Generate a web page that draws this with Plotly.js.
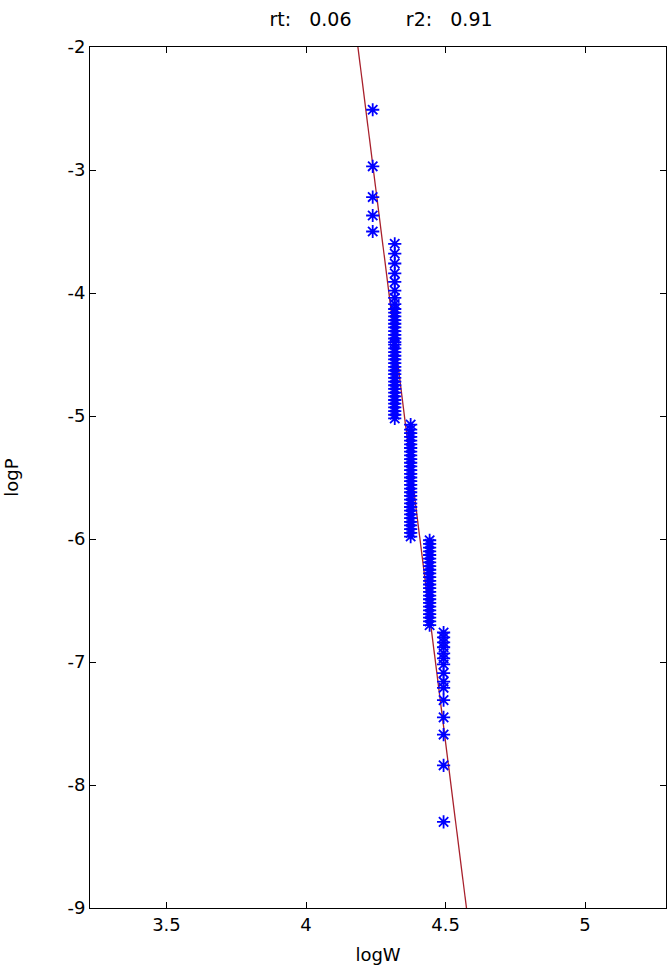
<!DOCTYPE html>
<html>
<head>
<meta charset="utf-8">
<script src="https://cdn.plot.ly/plotly-3.0.1.min.js"></script>
<style>html,body{margin:0;padding:0;background:#fff;}#chart{width:667px;height:974px;}</style>
</head>
<body>
<div id="chart"></div>
<script>
// logW levels of the point groups
const groupLogW = [4.239, 4.318, 4.375, 4.443, 4.493];
// logP values of each group
const logP_g0 = [-2.51, -2.97, -3.22, -3.37, -3.50];
const logP_g1 = [-3.60, -3.68, -3.76, -3.84, -3.91, -3.98, -4.04, -4.09, -4.13, -4.16, -4.19, -4.22, -4.25, -4.28, -4.31, -4.34, -4.37, -4.40, -4.42, -4.45, -4.48, -4.51, -4.54, -4.57, -4.60, -4.63, -4.66, -4.69, -4.72, -4.75, -4.78, -4.81, -4.84, -4.87, -4.90, -4.93, -4.96, -4.99, -5.02];
const logP_g2 = [-5.07, -5.11, -5.14, -5.17, -5.20, -5.23, -5.26, -5.29, -5.32, -5.35, -5.38, -5.41, -5.44, -5.47, -5.50, -5.53, -5.56, -5.59, -5.62, -5.65, -5.68, -5.71, -5.74, -5.77, -5.80, -5.83, -5.86, -5.89, -5.92, -5.95, -5.98];
const logP_g3 = [-6.01, -6.04, -6.07, -6.10, -6.13, -6.16, -6.19, -6.22, -6.25, -6.28, -6.31, -6.34, -6.37, -6.40, -6.43, -6.46, -6.49, -6.52, -6.55, -6.58, -6.61, -6.64, -6.67, -6.70];
const logP_g4 = [-6.76, -6.80, -6.84, -6.88, -6.93, -6.97, -7.02, -7.09, -7.16, -7.21, -7.31, -7.45, -7.59, -7.84, -8.30];
// fitted line endpoints (logW, logP)
const fitLogW = [4.186, 4.575];
const fitLogP = [-2, -9];
// stats in title
const rt = "0.06";
const r2 = "0.91";
const xTicks = [3.5, 4, 4.5, 5];
const yTicks = [-2, -3, -4, -5, -6, -7, -8, -9];

const groups = [logP_g0, logP_g1, logP_g2, logP_g3, logP_g4];
const px = [], py = [];
groups.forEach((g, i) => g.forEach(v => { px.push(groupLogW[i]); py.push(v); }));

const font = {family: 'DejaVu Sans, sans-serif', size: 18, color: '#000'};

const traces = [
  {x: fitLogW, y: fitLogP, type: 'scatter', mode: 'lines',
   line: {color: '#a8202c', width: 1.3}, hoverinfo: 'skip', cliponaxis: true},
  {x: px, y: py, type: 'scatter', mode: 'markers',
   marker: {symbol: 'asterisk-open', size: 11, color: '#0000ff', line: {color: '#0000ff', width: 1.8}}}
];

const S = '\u00A0';
const layout = {
  width: 667, height: 974,
  margin: {l: 90, r: 1, t: 47, b: 66},
  paper_bgcolor: '#fff', plot_bgcolor: '#fff',
  showlegend: false,
  font: font,
  title: {text: 'rt:' + S.repeat(3) + rt + S.repeat(9) + 'r2:' + S.repeat(3) + r2,
          x: 381 / 667, xanchor: 'center', y: 1 - 19/974, yanchor: 'middle', yref: 'container',
          font: {family: font.family, size: 19, color: '#000'}},
  xaxis: {range: [3.226, 5.29], tickvals: xTicks, ticktext: xTicks.map(String),
          ticks: 'inside', ticklen: 6, tickcolor: '#000', tickwidth: 1,
          showline: true, linecolor: '#000', linewidth: 1, mirror: 'ticks',
          showgrid: false, zeroline: false, automargin: false,
          tickfont: font,
          title: {text: 'logW', font: font, standoff: 14}},
  yaxis: {range: [-9, -2], tickvals: yTicks, ticktext: yTicks.map(v => '-' + Math.abs(v)),
          ticks: 'inside', ticklen: 6, tickcolor: '#000', tickwidth: 1,
          showline: true, linecolor: '#000', linewidth: 1, mirror: 'ticks',
          showgrid: false, zeroline: false, automargin: false,
          tickfont: font,
          title: {text: 'logP', font: font, standoff: 44}}
};

Plotly.newPlot('chart', traces, layout, {staticPlot: true, displayModeBar: false});
</script>
</body>
</html>
